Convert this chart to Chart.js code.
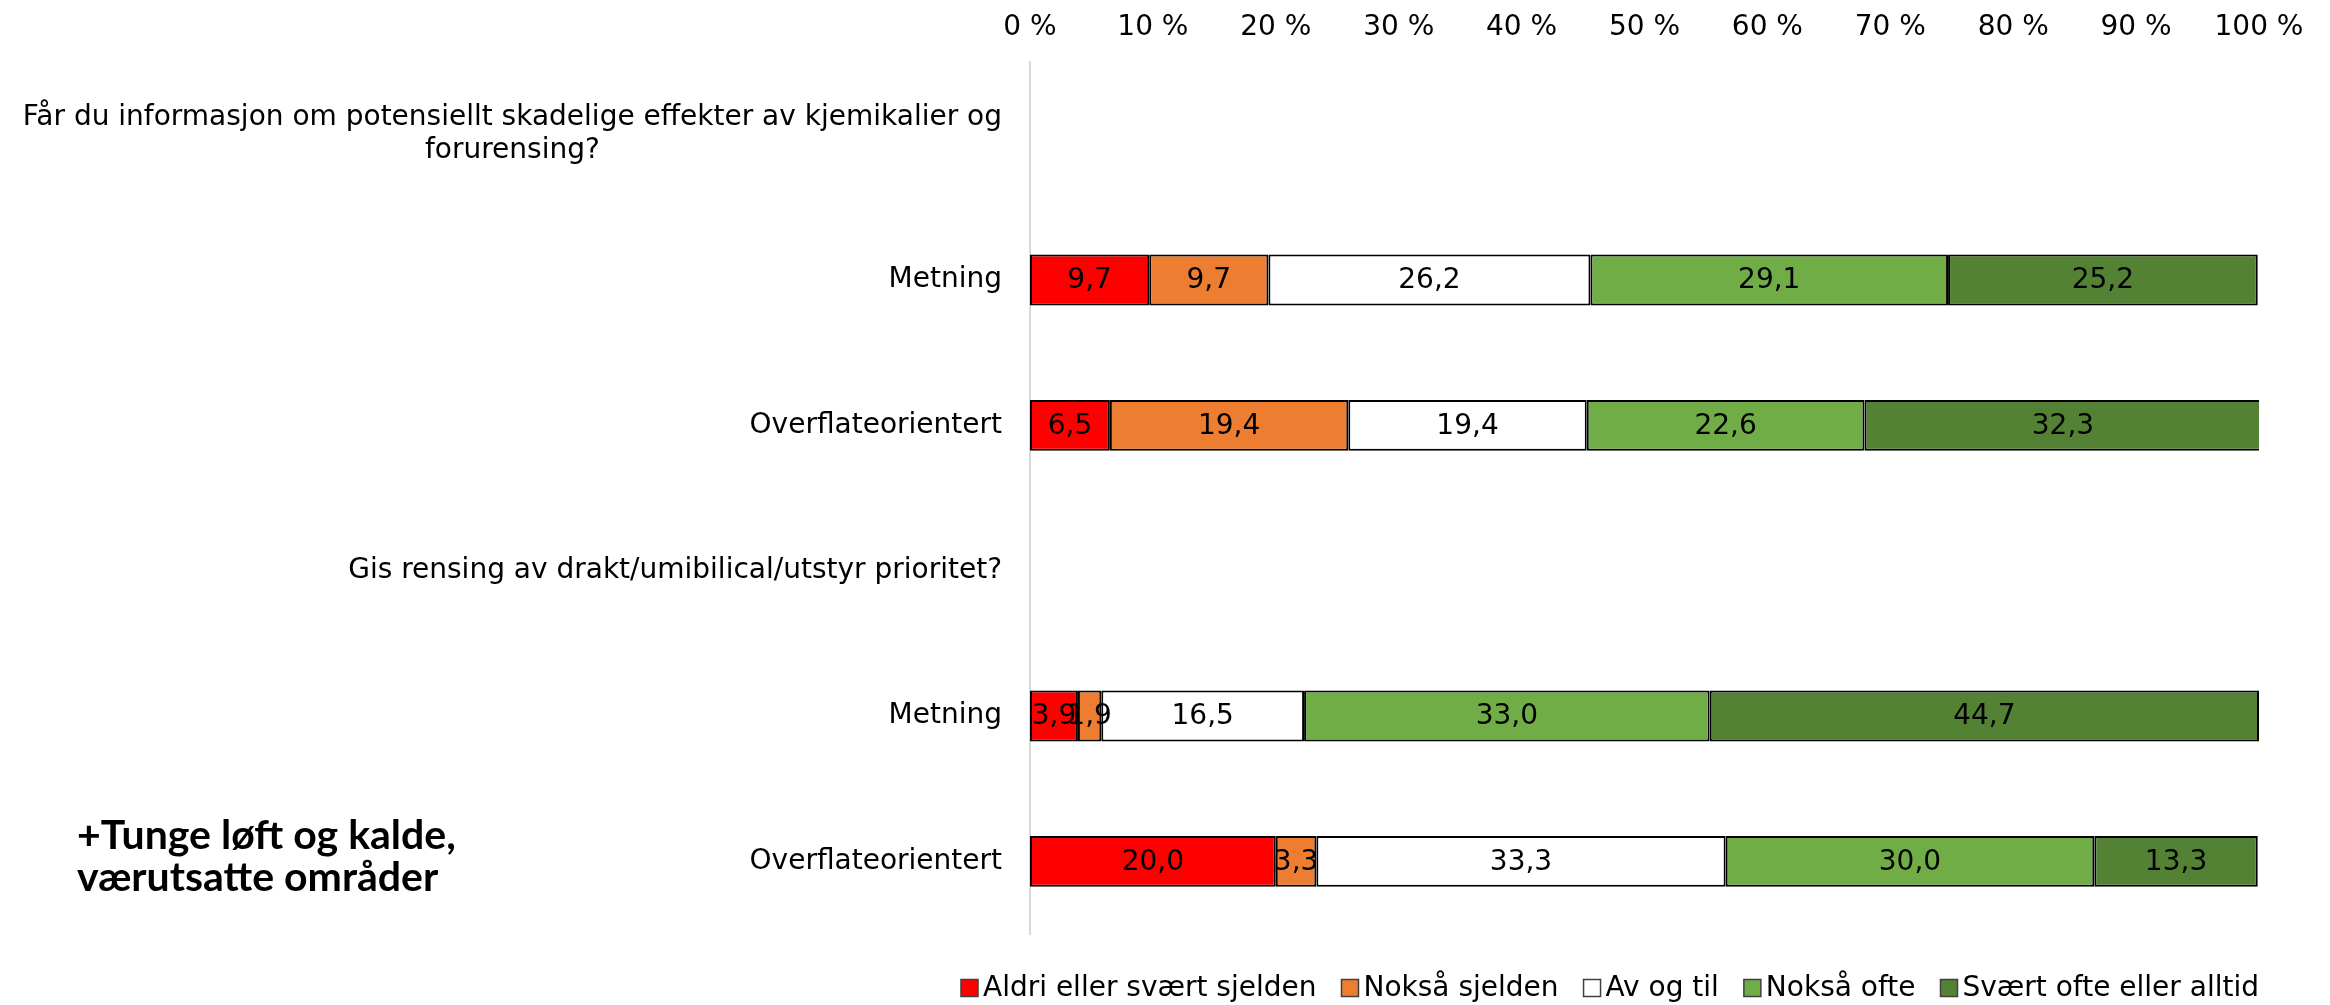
<!DOCTYPE html>
<html>
<head>
<meta charset="utf-8">
<script src="https://cdn.jsdelivr.net/npm/chart.js@4.4.1/dist/chart.umd.min.js"></script>
<style>
  body { margin: 0; background: #fff; }
</style>
</head>
<body>
<canvas id="grafico" width="2330" height="1005"></canvas>
<script>
// kategorier (overskrifter har ingen verdier)
const categorias = [
    ['Får du informasjon om potensiellt skadelige effekter av kjemikalier og', 'forurensing?'],
    ['Metning'],
    ['Overflateorientert'],
    ['Gis rensing av drakt/umibilical/utstyr prioritet?'],
    ['Metning'],
    ['Overflateorientert']
];
const serier = ['Aldri eller svært sjelden', 'Nokså sjelden', 'Av og til', 'Nokså ofte', 'Svært ofte eller alltid'];
const aldri = [null, 9.7, 6.5, null, 3.9, 20.0];
const noksaSjelden = [null, 9.7, 19.4, null, 1.9, 3.3];
const avOgTil = [null, 26.2, 19.4, null, 16.5, 33.3];
const noksaOfte = [null, 29.1, 22.6, null, 33.0, 30.0];
const sværtOfte = [null, 25.2, 32.3, null, 44.7, 13.3];
const notat = ['+Tunge løft og kalde,', 'værutsatte områder'];

const farger = ['#FF0000', '#ED7D31', '#FFFFFF', '#70AD47', '#548235'];
const fonte = '"DejaVu Sans", Verdana, sans-serif';

var verdier = [aldri, noksaSjelden, avOgTil, noksaOfte, sværtOfte];

var datasets = serier.map(function (navn, i) {
    return {
        label: navn,
        data: verdier[i],
        backgroundColor: farger[i],
        borderColor: '#000000',
        borderWidth: 2,
        borderSkipped: false,
        barPercentage: 0.35,
        categoryPercentage: 1
    };
});

// tekster: verdier i stolpene, kategorier, forklaring og notat
var tegnTekst = {
    id: 'tegnTekst',
    afterDatasetsDraw: function (chart) {
        var ctx = chart.ctx;
        ctx.save();
        ctx.font = '28px ' + fonte;
        ctx.fillStyle = '#000';
        ctx.textAlign = 'center';
        ctx.textBaseline = 'middle';
        chart.data.datasets.forEach(function (ds, i) {
            var meta = chart.getDatasetMeta(i);
            meta.data.forEach(function (bar, j) {
                var v = ds.data[j];
                if (v === null) return;
                ctx.fillText(v.toFixed(1).replace('.', ','), (bar.x + bar.base) / 2, bar.y + 1);
            });
        });
        ctx.restore();
    },
    afterDraw: function (chart) {
        var ctx = chart.ctx;
        var yScale = chart.scales.y;
        ctx.save();
        ctx.fillStyle = '#000';
        ctx.textBaseline = 'middle';
        ctx.font = '28px ' + fonte;

        // kategorier til venstre
        ctx.textAlign = 'center';
        categorias.forEach(function (linjer, i) {
            var midt = yScale.getPixelForValue(i);
            var bredest = Math.max.apply(null, linjer.map(function (l) { return ctx.measureText(l).width; }));
            linjer.forEach(function (l, k) {
                ctx.fillText(l, 1002 - bredest / 2, midt + (k - (linjer.length - 1) / 2) * 33);
            });
        });

        // forklaring nederst
        var boks = 17, luft = 5, mellom = 25;
        var bredder = serier.map(function (s) { return boks + luft + ctx.measureText(s).width; });
        var total = bredder.reduce(function (a, b) { return a + b; }, 0) + mellom * (serier.length - 1);
        var x = chart.chartArea.right - total;
        var y = 988;
        ctx.textAlign = 'left';
        serier.forEach(function (s, i) {
            ctx.fillStyle = farger[i];
            ctx.fillRect(x, y - boks / 2, boks, boks);
            ctx.strokeStyle = '#404040';
            ctx.lineWidth = 1.5;
            ctx.strokeRect(x, y - boks / 2, boks, boks);
            ctx.fillStyle = '#000';
            ctx.fillText(s, x + boks + luft, y + 1);
            x += bredder[i] + mellom;
        });

        // notat
        ctx.font = 'bold 41px Lato, sans-serif';
        notat.forEach(function (l, k) {
            ctx.fillText(l, 77, 836 + k * 42);
        });
        ctx.restore();
    }
};

var grafico = document.getElementById('grafico').getContext('2d');
var myChart = new Chart(grafico, {
    type: 'bar',
    data: {
        labels: categorias,
        datasets: datasets
    },
    options: {
        indexAxis: 'y',
        responsive: false,
        animation: false,
        devicePixelRatio: 1,
        layout: {
            padding: { top: 0, right: 71, bottom: 71, left: 0 }
        },
        plugins: {
            legend: { display: false },
            tooltip: { enabled: false }
        },
        scales: {
            x: {
                position: 'top',
                stacked: true,
                min: 0,
                max: 100,
                grid: { display: false, drawTicks: false },
                border: { display: false },
                ticks: {
                    stepSize: 10,
                    padding: 17,
                    color: '#000',
                    font: { family: fonte, size: 28 },
                    callback: function (v) { return v + ' %'; }
                },
                afterFit: function (scale) { scale.height = 62; }
            },
            y: {
                stacked: true,
                grid: { display: false },
                border: { display: true, color: '#D9D9D9', width: 2 },
                ticks: { display: false },
                afterFit: function (scale) { scale.width = 1030; }
            }
        }
    },
    plugins: [tegnTekst]
});
</script>
</body>
</html>
